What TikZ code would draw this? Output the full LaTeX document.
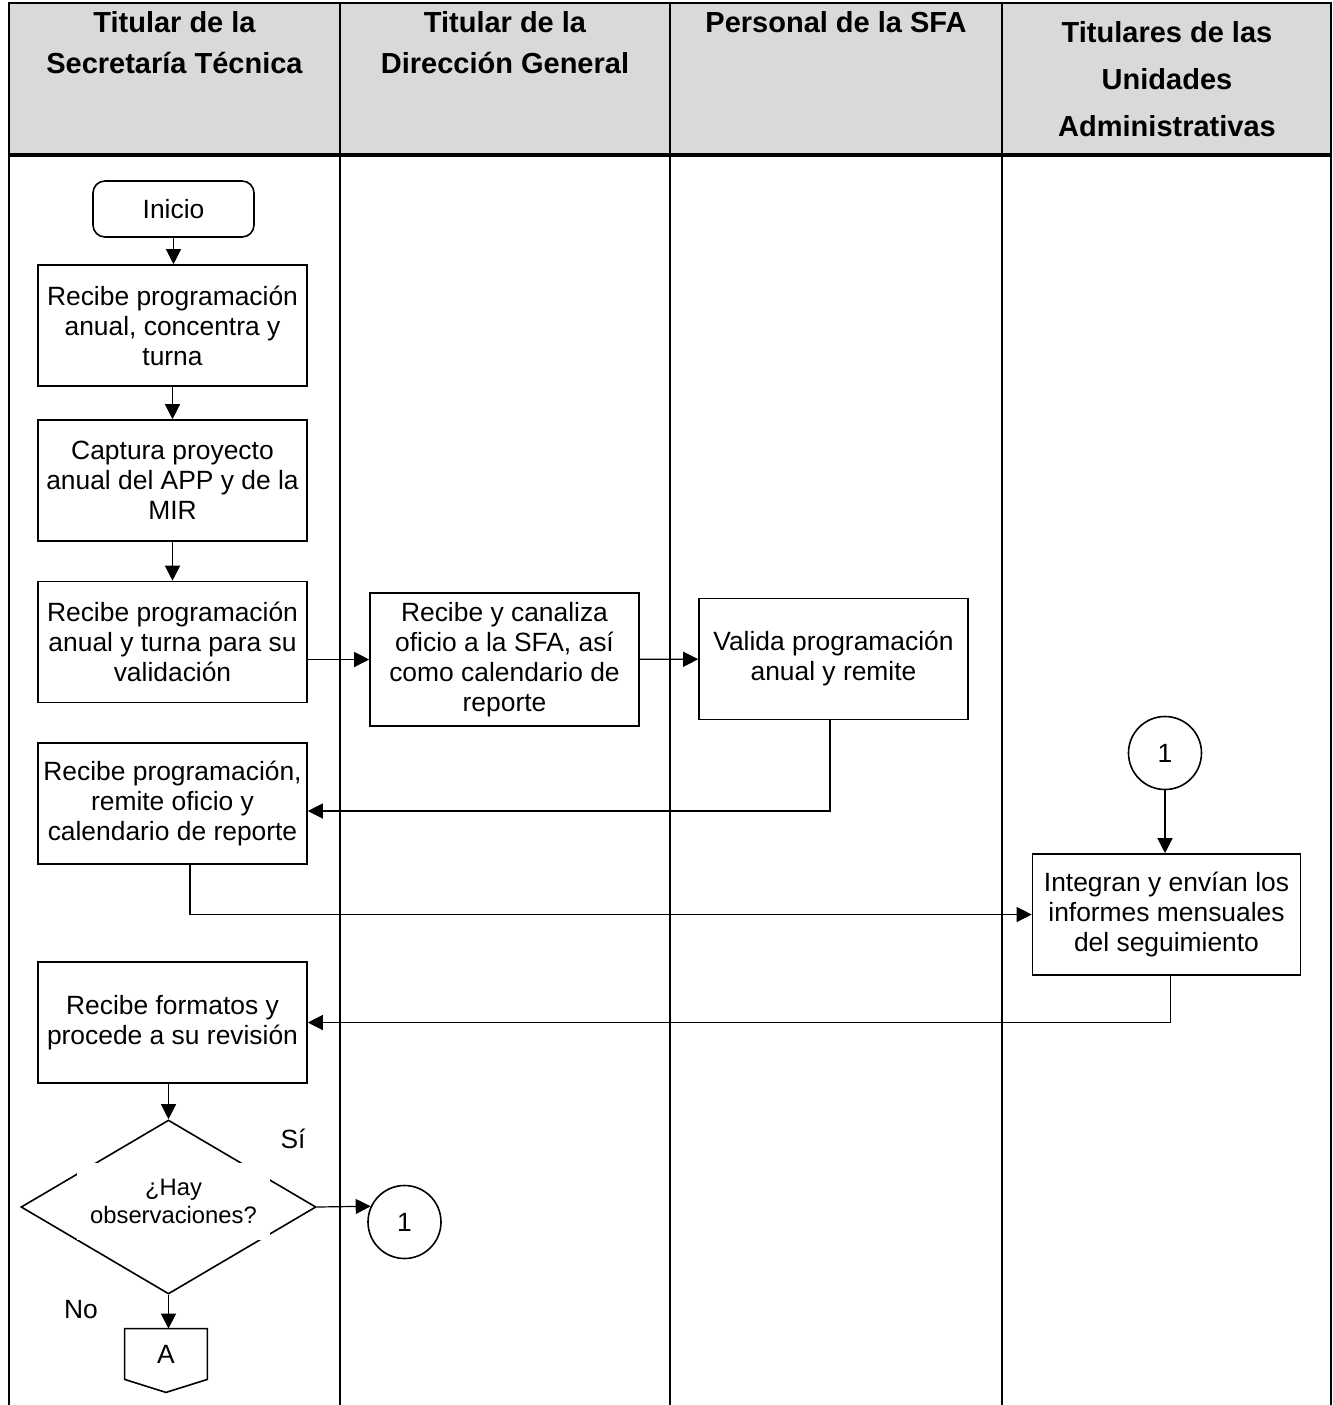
\documentclass[tikz,border=0pt]{standalone}
\usepackage{fontspec}
\setmainfont{Liberation Sans}
\usetikzlibrary{arrows.meta,shapes.geometric}

\definecolor{headgray}{RGB}{217,217,217}

\begin{document}
\begin{tikzpicture}[x=0.5pt,y=-0.5pt,
    box/.style={draw, line width=0.8pt, minimum width=134.5pt, minimum height=60.5pt,
        align=center, inner sep=2pt, font=\fontsize{13.2}{15}\selectfont},
    head/.style={align=center, font=\bfseries\fontsize{14.5}{20.5}\selectfont},
    conn/.style={circle, draw, line width=0.8pt, minimum size=36.5pt, inner sep=0pt,
        font=\fontsize{13.2}{15}\selectfont},
    arr/.style={-{Triangle[length=7.5pt,width=7.5pt]}, line width=0.6pt}]
    \useasboundingbox (0,0) rectangle (1333,1405);

    % Header
    \fill[headgray] (9,3) rectangle (1331,155);
    \node[head] (h1) at (174.5,42.5) {Titular de la\\Secretaría Técnica};
    \node[head] (h2) at (505,42.5) {Titular de la\\Dirección General};
    \node[head] (h3) at (836,22) {Personal de la SFA};
    \node[head, font=\bfseries\fontsize{14.5}{23.5}\selectfont] (h4) at (1167,79.5)
        {Titulares de las\\Unidades\\Administrativas};

    % Lanes
    \draw[line width=1.1pt] (9,1405) -- (9,3) -- (1331,3) -- (1331,1405);
    \foreach \x in {340,670,1002}
        \draw[line width=1.1pt] (\x,3) -- (\x,1405);
    \draw[line width=1.6pt] (9,155) -- (1331,155);

    % Steps
    \node[box, rounded corners=6pt, minimum width=80.5pt, minimum height=28pt] (inicio)
        at (173.5,209) {Inicio};
    \node[box] (b1) at (172.5,325.5) {Recibe programación\\anual, concentra y\\turna};
    \node[box] (b2) at (172.5,480.5) {Captura proyecto\\anual del APP y de la\\MIR};
    \node[box] (b3) at (172.5,642) {Recibe programación\\anual y turna para su\\validación};
    \node[box, minimum height=66.5pt] (b4) at (504.5,659.5)
        {Recibe y canaliza\\oficio a la SFA, así\\como calendario de\\reporte};
    \node[box] (b5) at (833.5,659) {Valida programación\\anual y remite};
    \node[box] (b6) at (172.5,803.5) {Recibe programación,\\remite oficio y\\calendario de reporte};
    \node[conn] (c1) at (1165,753) {1};
    \node[box, minimum width=134pt] (b7) at (1166.5,914.5)
        {Integran y envían los\\informes mensuales\\del seguimiento};
    \node[box] (b8) at (172.5,1022.5) {Recibe formatos y\\procede a su revisión};

    % Decision
    \node[diamond, draw, line width=0.8pt, minimum width=147.5pt, minimum height=87pt,
        inner sep=0pt] (dia) at (168.5,1207) {};
    \node[fill=white, minimum width=96.5pt, minimum height=38.5pt, align=center,
        font=\fontsize{11.9}{14}\selectfont] (diatxt) at (173.5,1201) {¿Hay\\observaciones?};
    \node[font=\fontsize{13.2}{15}\selectfont] (si) at (293,1139) {Sí};
    \node[font=\fontsize{13.2}{15}\selectfont] (no) at (81,1310) {No};
    \node[conn] (c2) at (404.5,1222) {1};

    % Off-page connector
    \node[minimum width=41pt, minimum height=25pt, inner sep=0pt,
        font=\fontsize{13.2}{15}\selectfont] (offA) at (166,1354) {A};
    \draw[line width=0.8pt] (offA.north west) -- (offA.north east) -- (offA.south east)
        -- ([yshift=-6.5pt]offA.south) -- (offA.south west) -- cycle;

    % Connectors
    \draw[arr] (inicio.south) -- (inicio.south |- b1.north);
    \draw[arr] (b1) -- (b2);
    \draw[arr] (b2) -- (b3);
    \draw[arr] (b3.east |- b4.west) -- (b4.west);
    \draw[arr] (b4) -- (b5);
    \draw[arr] ([xshift=-1.75pt]b5.south) |- ([yshift=-3.75pt]b6.east);
    \draw[arr] ([xshift=8.75pt]b6.south) |- (b7.west);
    \draw[arr] (c1.south) -- (c1.south |- b7.north);
    \draw[arr] ([xshift=2pt]b7.south) |- (b8.east);
    \draw[arr] (b8.south -| dia.north) -- (dia.north);
    \draw[arr] (dia.east) -- (c2.155);
    \draw[arr] (dia.south) -- (dia.south |- offA.north);
\end{tikzpicture}
\end{document}
